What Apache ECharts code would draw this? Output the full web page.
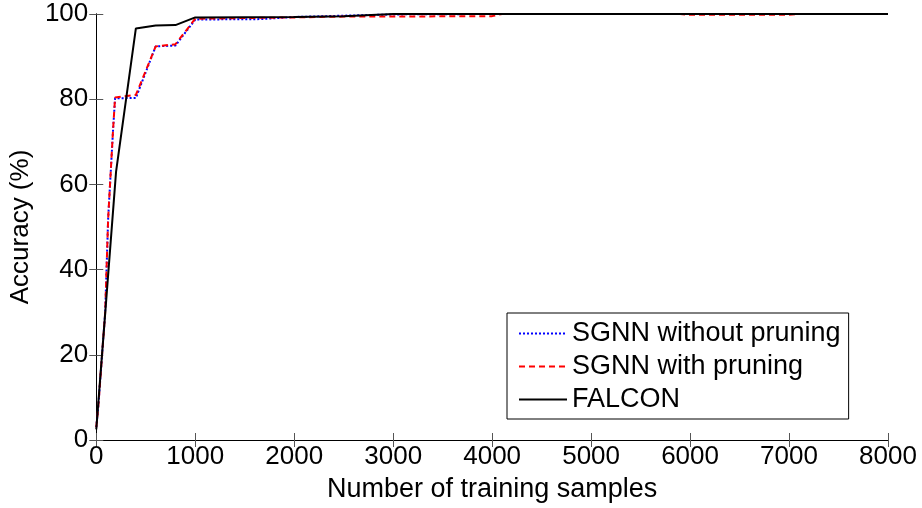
<!DOCTYPE html>
<html>
<head>
<meta charset="utf-8">
<script src="https://cdn.jsdelivr.net/npm/echarts@6/dist/echarts.min.js"></script>
<style>
html,body{margin:0;padding:0;background:#fff;}
#c{width:922px;height:508px;}
</style>
</head>
<body>
<div id="c"></div>
<script>
// ---- data ----
var seriesNames = ['SGNN without pruning', 'SGNN with pruning', 'FALCON'];
var xTicks = [0, 1000, 2000, 3000, 4000, 5000, 6000, 7000, 8000];
var yTicks = [0, 20, 40, 60, 80, 100];

var blueX = [0, 20, 90, 120, 170, 190, 400, 600, 800, 1000, 1650, 2000, 3000, 4000, 5000, 6000, 7000, 8000];
var blueY = [3, 7.8, 30, 52, 73, 80.2, 80.3, 92.4, 92.6, 98.7, 98.8, 99.3, 99.9, 100, 100, 100, 100, 100];

var redX = [0, 20, 90, 120, 170, 190, 400, 600, 800, 1000, 2000, 2500, 3000, 4000, 4100, 5900, 6000, 7000, 7100, 8000];
var redY = [3, 7.8, 30, 52, 73, 80.4, 81.0, 92.4, 92.9, 98.9, 99.2, 99.4, 99.4, 99.5, 100, 100, 99.8, 99.8, 100, 100];

var blackX = [0, 200, 400, 600, 800, 1000, 2000, 2500, 3000, 4000, 5000, 6000, 7000, 8000];
var blackY = [2.5, 63, 96.6, 97.3, 97.4, 99.2, 99.3, 99.5, 100, 100, 100, 100, 100, 100];

function pairs(xs, ys) { return xs.map(function (x, i) { return [x, ys[i]]; }); }

var FONT = "'Liberation Sans', Arial, sans-serif";
var chart = echarts.init(document.getElementById('c'), null, {renderer: 'canvas'});

var baseAxisLine = {show: true, lineStyle: {color: '#000', width: 1}};
var tickStyle = {show: true, inside: true, length: 7, lineStyle: {color: '#555', width: 1}};

chart.setOption({
  animation: false,
  backgroundColor: '#fff',
  grid: {left: 96, right: 34, top: 14, bottom: 65, containLabel: false},
  xAxis: [{
    type: 'value', min: 0, max: 8000, interval: 1000, position: 'bottom',
    name: 'Number of training samples', nameLocation: 'middle', nameGap: 36,
    nameTextStyle: {fontFamily: FONT, fontSize: 27, color: '#000'},
    axisLine: baseAxisLine, axisTick: tickStyle,
    axisLabel: {fontFamily: FONT, fontSize: 26, color: '#000', margin: 4,
      formatter: function (v) { return xTicks.indexOf(v) >= 0 ? String(v) : ''; }},
    splitLine: {show: false}
  }, {
    type: 'value', min: 0, max: 8000, interval: 1000, position: 'top',
    axisLine: baseAxisLine, axisTick: tickStyle, axisLabel: {show: false}, splitLine: {show: false}
  }],
  yAxis: [{
    type: 'value', min: 0, max: 100, interval: 20, position: 'left',
    name: 'Accuracy (%)', nameLocation: 'middle', nameGap: 56, nameRotate: 90,
    nameTextStyle: {fontFamily: FONT, fontSize: 26, color: '#000'},
    axisLine: baseAxisLine, axisTick: tickStyle,
    axisLabel: {fontFamily: FONT, fontSize: 26, color: '#000', margin: 8,
      formatter: function (v) { return yTicks.indexOf(v) >= 0 ? String(v) : ''; }},
    splitLine: {show: false}
  }, {
    type: 'value', min: 0, max: 100, interval: 20, position: 'right',
    axisLine: baseAxisLine, axisTick: tickStyle, axisLabel: {show: false}, splitLine: {show: false}
  }],
  legend: {
    orient: 'vertical', left: 507, top: 313,
    padding: [7, 8, 6, 11],
    itemGap: 6, itemWidth: 48, itemHeight: 14,
    backgroundColor: '#fff', borderColor: '#000', borderWidth: 1,
    itemStyle: {opacity: 0},
    textStyle: {fontFamily: FONT, fontSize: 27, color: '#000', lineHeight: 26},
    data: seriesNames
  },
  series: [{
    name: seriesNames[0], type: 'line', data: pairs(blueX, blueY),
    showSymbol: false, symbol: 'none',
    lineStyle: {color: '#0000ff', width: 2, type: [2, 2]}, itemStyle: {color: '#0000ff'}, z: 2
  }, {
    name: seriesNames[1], type: 'line', data: pairs(redX, redY),
    showSymbol: false, symbol: 'none',
    lineStyle: {color: '#ff0000', width: 2, type: [6, 4]}, itemStyle: {color: '#ff0000'}, z: 3
  }, {
    name: seriesNames[2], type: 'line', data: pairs(blackX, blackY),
    showSymbol: false, symbol: 'none',
    lineStyle: {color: '#000000', width: 2, type: 'solid'}, itemStyle: {color: '#000000'}, z: 4
  }]
});
</script>
</body>
</html>
